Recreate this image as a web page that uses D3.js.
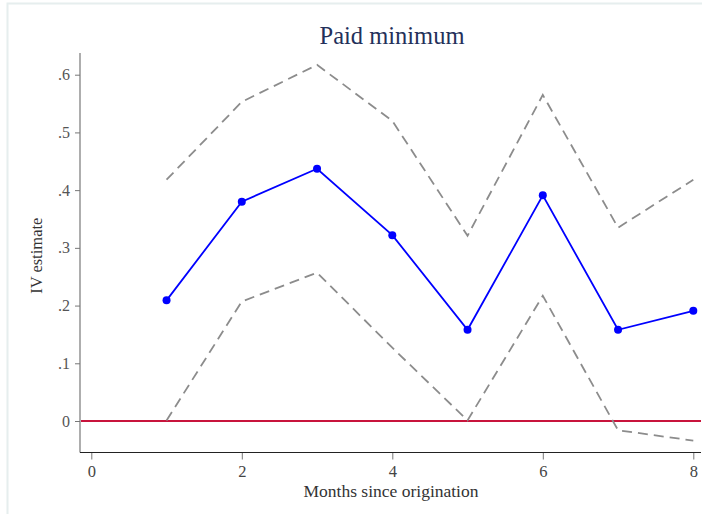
<!DOCTYPE html>
<html>
<head>
<meta charset="utf-8">
<script src="https://cdn.jsdelivr.net/npm/d3@7"></script>
<style>
  body { margin: 0; background: #fff; }
  text { font-family: "Liberation Serif", "DejaVu Serif", serif; }
</style>
</head>
<body>
<script>
const months = [1, 2, 3, 4, 5, 6, 7, 8]
const estimate = [0.209, 0.380, 0.437, 0.322, 0.158, 0.391, 0.158, 0.191]
const upper = [0.418, 0.553, 0.617, 0.520, 0.321, 0.565, 0.335, 0.418]
const lower = [0.001, 0.207, 0.257, 0.127, 0.001, 0.217, -0.016, -0.034]
const xTicks = [0, 2, 4, 6, 8]
const yTicks = [0, 0.1, 0.2, 0.3, 0.4, 0.5, 0.6]
const yTickLabels = ['0', '.1', '.2', '.3', '.4', '.5', '.6']

const W = 702, H = 514

const svg = d3.select('body').append('svg')
  .attr('width', W)
  .attr('height', H)

// faint screenshot frame
svg.append('rect')
  .attr('x', 7.5).attr('y', 3.5)
  .attr('width', W).attr('height', H)
  .attr('fill', 'none')
  .attr('stroke', '#e6eeee')
  .attr('stroke-width', 2)

const scaleX = d3.scaleLinear()
  .domain([0, 8])
  .range([91.3, 693.3])

const scaleY = d3.scaleLinear()
  .domain([0, 0.6])
  .range([421, 74.7])

const plot = {left: 80, right: 701, top: 53, bottom: 452.5}

// title
svg.append('text')
  .attr('x', 392).attr('y', 44)
  .attr('text-anchor', 'middle')
  .attr('font-size', 24.5)
  .attr('fill', '#23305a')
  .text('Paid minimum')

// y axis
const axisY = d3.axisLeft(scaleY)
  .tickValues(yTicks)
  .tickFormat((d, i) => yTickLabels[i])
  .tickSize(5)
  .tickPadding(5)
const gy = svg.append('g').attr('transform', `translate(${plot.left},0)`).call(axisY)
gy.select('.domain').remove()
gy.selectAll('line').attr('stroke', '#777')
gy.selectAll('text').attr('font-size', 16).attr('fill', '#555')
svg.append('line')
  .attr('x1', plot.left).attr('x2', plot.left).attr('y1', plot.top).attr('y2', plot.bottom)
  .attr('stroke', '#777').attr('stroke-width', 1.2)

// x axis
const axisX = d3.axisBottom(scaleX)
  .tickValues(xTicks)
  .tickSize(7)
  .tickPadding(6)
const gx = svg.append('g').attr('transform', `translate(0,${plot.bottom})`).call(axisX)
gx.select('.domain').remove()
gx.selectAll('line').attr('stroke', '#777')
gx.selectAll('text').attr('font-size', 16.5).attr('fill', '#444')
svg.append('line')
  .attr('x1', plot.left).attr('x2', plot.right).attr('y1', plot.bottom).attr('y2', plot.bottom)
  .attr('stroke', '#222').attr('stroke-width', 1.2)

// axis titles
svg.append('text')
  .attr('transform', `translate(42,${(plot.top + plot.bottom) / 2 + 3}) rotate(-90)`)
  .attr('text-anchor', 'middle')
  .attr('font-size', 16.5)
  .attr('fill', '#333')
  .text('IV estimate')

svg.append('text')
  .attr('x', 391).attr('y', 497)
  .attr('text-anchor', 'middle')
  .attr('font-size', 17.5)
  .attr('fill', '#333')
  .text('Months since origination')

// zero reference line
svg.append('line')
  .attr('x1', plot.left + 1).attr('x2', plot.right)
  .attr('y1', scaleY(0)).attr('y2', scaleY(0))
  .attr('stroke', '#c8143c').attr('stroke-width', 2)

const line = d3.line()
  .x(d => scaleX(d[0]))
  .y(d => scaleY(d[1]))

const dashed = [upper, lower]
svg.selectAll('path.ci')
  .data(dashed)
  .enter()
  .append('path')
  .attr('class', 'ci')
  .attr('d', s => line(months.map((m, i) => [m, s[i]])))
  .attr('fill', 'none')
  .attr('stroke', '#8c8c8c')
  .attr('stroke-width', 1.8)
  .attr('stroke-dasharray', '10,6')

const pts = months.map((m, i) => [m, estimate[i]])
svg.append('path')
  .attr('d', line(pts))
  .attr('fill', 'none')
  .attr('stroke', '#0000ff')
  .attr('stroke-width', 1.8)

svg.selectAll('circle')
  .data(pts)
  .enter()
  .append('circle')
  .attr('cx', d => scaleX(d[0]))
  .attr('cy', d => scaleY(d[1]))
  .attr('r', 4)
  .attr('fill', '#0000ff')
</script>
</body>
</html>
